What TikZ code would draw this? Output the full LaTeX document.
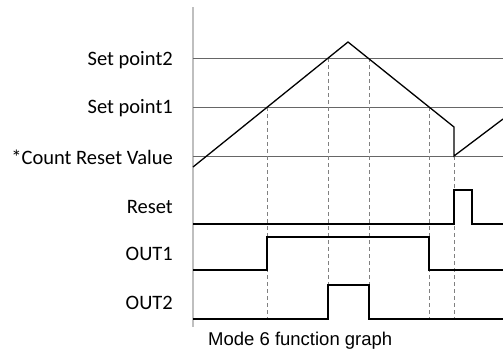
\documentclass[tikz,border=0pt]{standalone}
\usepackage{fontspec}
\setmainfont{Carlito}
\newfontfamily\captionfont{Liberation Sans}
\tikzstyle{level}=[gray!80!black, line width=0.8pt]
\tikzstyle{signal}=[black, line width=1.3pt, line join=miter]
\tikzstyle{guide}=[dash pattern=on 4pt off 3pt, gray, line width=0.6pt]
\tikzstyle{label}=[anchor=east, inner sep=0pt, font=\fontsize{20.5}{24}\selectfont]

\begin{document}
\begin{tikzpicture}[x=1pt, y=-1pt]
\useasboundingbox (0,0) rectangle (503,354);
% Axis
    \draw[gray!50, line width=1.2pt] (193,7) -- (193,327);
% Levels
    \draw[level] (193,58) -- (503,58);
    \draw[level] (193,107) -- (503,107);
    \draw[level] (193,156) -- (503,156);
% Guides
    \draw[guide] (267,107) -- (267,320);
    \draw[guide] (328,58) -- (328,320);
    \draw[guide] (369,58) -- (369,320);
    \draw[guide] (429,107) -- (429,320);
    \draw[guide] (454,156) -- (454,320);
% Count value
    \draw[signal] (193,167) -- (348,42) -- (454,127) -- (454,156) -- (503,119);
% Reset
    \draw[signal] (193,224) -- (454,224) -- (454,190) -- (472,190) -- (472,224) -- (503,224);
% OUT1
    \draw[signal] (193,270) -- (267,270) -- (267,237) -- (429,237) -- (429,270) -- (503,270);
% OUT2
    \draw[signal] (193,319) -- (328,319) -- (328,285) -- (369,285) -- (369,319) -- (503,319);
% Labels
    \node[label] (sp2) at (173,60) {Set point2};
    \node[label] (sp1) at (173,108) {Set point1};
    \node[label] (crv) at (173,157) {*Count Reset Value};
    \node[label] (rst) at (173,207) {Reset};
    \node[label] (out1) at (173,254) {OUT1};
    \node[label] (out2) at (173,303) {OUT2};
    \node[anchor=west, inner sep=0pt, font=\captionfont\fontsize{18.5}{22}\selectfont] (cap) at (208,341) {Mode 6 function graph};
\end{tikzpicture}
\end{document}
